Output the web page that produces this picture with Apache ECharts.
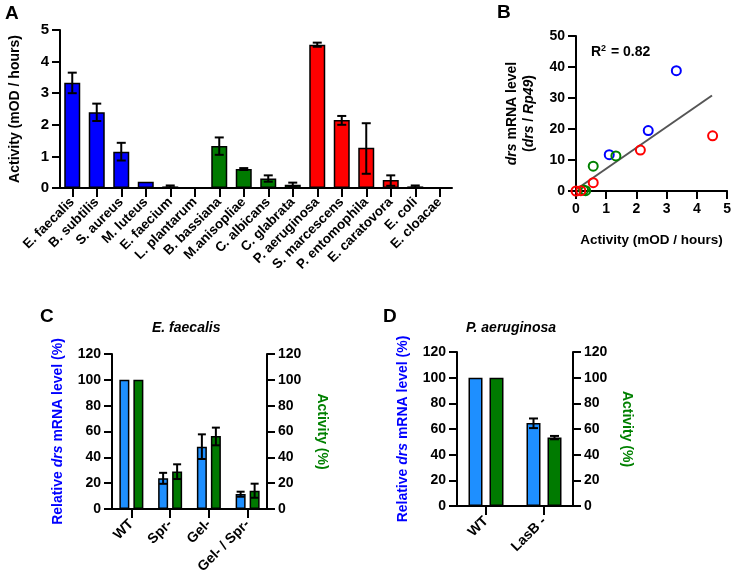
<!DOCTYPE html>
<html>
<head>
<meta charset="utf-8">
<script src="https://cdn.jsdelivr.net/npm/echarts@6/dist/echarts.min.js"></script>
<style>
  html, body { margin: 0; padding: 0; background: #fff; }
  #chart { width: 734px; height: 584px; }
</style>
</head>
<body>
<div id="chart"></div>
<script>
// ---- panel A data ----
const speciesA = ['E. faecalis', 'B. subtilis', 'S. aureus', 'M. luteus', 'E. faecium', 'L. plantarum',
  'B. bassiana', 'M.anisopliae', 'C. albicans', 'C. glabrata',
  'P. aeruginosa', 'S. marcescens', 'P. entomophila', 'E. caratovora', 'E. coli', 'E. cloacae']
const groupA = ['gram+', 'gram+', 'gram+', 'gram+', 'gram+', 'gram+',
  'fungi', 'fungi', 'fungi', 'fungi',
  'gram-', 'gram-', 'gram-', 'gram-', 'gram-', 'gram-']
const activityA = [3.33, 2.4, 1.15, 0.2, 0.05, 0, 1.33, 0.6, 0.3, 0.1, 4.53, 2.15, 1.27, 0.25, 0.05, 0]
const errLowA = [3.0, 2.12, 0.87, 0.2, 0.02, 0, 1.05, 0.57, 0.2, 0.03, 4.47, 2.0, 0.45, 0.07, 0.02, 0]
const errHighA = [3.65, 2.67, 1.43, 0.2, 0.08, 0, 1.6, 0.63, 0.4, 0.17, 4.6, 2.28, 2.05, 0.4, 0.08, 0]

// ---- panel B data: [activity, drs / Rp49] ----
const pointsBlue = [[3.32, 38.8], [2.39, 19.5], [1.1, 11.7]]
const pointsGreen = [[1.32, 11.3], [0.57, 8.0], [0.25, 0.3], [0.32, 0.1]]
const pointsRed = [[4.52, 17.8], [2.13, 13.2], [0.57, 2.7], [0.16, 0.1], [0.0, 0.0]]
const fitLine = [[0.05, 0.8], [4.5, 30.8]]

// ---- panel C data (E. faecalis) ----
const strainsC = ['WT', 'Spr-', 'Gel-', 'Gel- / Spr-']
const mrnaC = [100, 23.8, 48.2, 11.6]
const mrnaErrC = [[100, 100], [19.5, 28], [38.7, 57.8], [9.5, 13.4]]
const actC = [100, 29, 56.5, 14.2]
const actErrC = [[100, 100], [23.2, 34.6], [49.3, 63], [8.7, 19.6]]

// ---- panel D data (P. aeruginosa) ----
const strainsD = ['WT', 'LasB -']
const mrnaD = [100, 64.6]
const mrnaErrD = [[100, 100], [60.7, 68.2]]
const actD = [100, 53.3]
const actErrD = [[100, 100], [52, 54.6]]

const groupColors = { 'gram+': '#0000ff', 'fungi': '#007a00', 'gram-': '#ff0000' }
const barBlue = '#1e8fff'
const barGreen = '#007a00'
const FONT = '"Liberation Sans", Arial, sans-serif'

const chart = echarts.init(document.getElementById('chart'))

const axisLine = { show: true, lineStyle: { color: '#000', width: 2 } }
const axisTick = { show: true, length: 8, lineStyle: { color: '#000', width: 2 } }
const tickLabel = { color: '#000', fontWeight: 'bold', fontSize: 14, fontFamily: FONT }

function errorBars(offset, capHalf) {
  return function (params, api) {
    const lo = api.value(1), hi = api.value(2)
    if (hi - lo <= 0) return
    const a = api.coord([api.value(0), lo])
    const b = api.coord([api.value(0), hi])
    const x = a[0] + offset
    const st = { stroke: '#000', lineWidth: 2 }
    return {
      type: 'group',
      children: [
        { type: 'line', shape: { x1: x, y1: a[1], x2: x, y2: b[1] }, style: st },
        { type: 'line', shape: { x1: x - capHalf, y1: a[1], x2: x + capHalf, y2: a[1] }, style: st },
        { type: 'line', shape: { x1: x - capHalf, y1: b[1], x2: x + capHalf, y2: b[1] }, style: st },
      ],
    }
  }
}

function errData(pairs) {
  return pairs.map((p, i) => [i, p[0], p[1]])
}

function sideAxis(gridIndex, position, name, color, nameGap, rotate) {
  return {
    type: 'value', gridIndex, position, min: 0, max: 120, interval: 20,
    axisLine, axisTick, axisLabel: { ...tickLabel, margin: 11 }, splitLine: { show: false },
    name, nameLocation: 'middle', nameGap, nameRotate: rotate,
    nameTextStyle: {
      color, fontWeight: 'bold', fontSize: 14, fontFamily: FONT,
      rich: { i: { color, fontWeight: 'bold', fontStyle: 'italic', fontSize: 14, fontFamily: FONT } },
    },
  }
}

const option = {
  animation: false,
  textStyle: { fontFamily: FONT },
  grid: [
    { left: 58, top: 30, width: 394, height: 158 },
    { left: 576, top: 36, width: 153, height: 155 },
    { left: 112, top: 354, width: 155, height: 155 },
    { left: 457, top: 352, width: 116, height: 154 },
  ],
  xAxis: [
    {
      type: 'category', gridIndex: 0, data: speciesA,
      axisLine, axisTick: { ...axisTick, length: 9, alignWithLabel: true },
      axisLabel: { ...tickLabel, fontSize: 13.5, rotate: 45, interval: 0, margin: 12 },
    },
    {
      type: 'value', gridIndex: 1, min: 0, max: 5, interval: 1,
      axisLine, axisTick, axisLabel: { ...tickLabel, margin: 11 }, splitLine: { show: false },
      name: 'Activity (mOD / hours)', nameLocation: 'middle', nameGap: 42,
      nameTextStyle: { color: '#000', fontWeight: 'bold', fontSize: 13.5, fontFamily: FONT },
    },
    {
      type: 'category', gridIndex: 2, data: strainsC,
      axisLine, axisTick: { ...axisTick, length: 9, alignWithLabel: true },
      axisLabel: { ...tickLabel, fontSize: 14, rotate: 45, interval: 0, margin: 13 },
    },
    {
      type: 'category', gridIndex: 3, data: strainsD,
      axisLine, axisTick: { ...axisTick, length: 9, alignWithLabel: true },
      axisLabel: { ...tickLabel, fontSize: 14, rotate: 45, interval: 0, margin: 13 },
    },
  ],
  yAxis: [
    {
      type: 'value', gridIndex: 0, min: 0, max: 5, interval: 1,
      axisLine, axisTick, axisLabel: { ...tickLabel, fontSize: 15, margin: 11 }, splitLine: { show: false },
      name: 'Activity (mOD / hours)', nameLocation: 'middle', nameGap: 38, nameRotate: 90,
      nameTextStyle: { color: '#000', fontWeight: 'bold', fontSize: 14, fontFamily: FONT },
    },
    {
      type: 'value', gridIndex: 1, min: 0, max: 50, interval: 10,
      axisLine, axisTick, axisLabel: { ...tickLabel, margin: 11 }, splitLine: { show: false },
      name: '{i|drs} mRNA level\n({i|drs} / {i|Rp49})', nameLocation: 'middle', nameGap: 38, nameRotate: 90,
      nameTextStyle: {
        color: '#000', fontWeight: 'bold', fontSize: 14, fontFamily: FONT, lineHeight: 17,
        rich: { i: { color: '#000', fontWeight: 'bold', fontStyle: 'italic', fontSize: 14, fontFamily: FONT, lineHeight: 17 } },
      },
    },
    sideAxis(2, 'left', 'Relative {i|drs} mRNA level (%)', '#0000ff', 47, 90),
    sideAxis(2, 'right', 'Activity (%)', '#008000', 48, -90),
    sideAxis(3, 'left', 'Relative {i|drs} mRNA level (%)', '#0000ff', 47, 90),
    sideAxis(3, 'right', 'Activity (%)', '#008000', 47, -90),
  ],
  series: [
    // panel A
    {
      type: 'bar', xAxisIndex: 0, yAxisIndex: 0, barWidth: 16,
      data: activityA.map((v, i) => ({ value: v, itemStyle: { color: groupColors[groupA[i]] } })),
      itemStyle: { borderColor: '#000', borderWidth: 1.5 },
    },
    {
      type: 'custom', xAxisIndex: 0, yAxisIndex: 0, z: 5,
      renderItem: errorBars(0, 4.5),
      data: errLowA.map((lo, i) => [i, lo, errHighA[i]]),
    },
    // panel B
    {
      type: 'line', xAxisIndex: 1, yAxisIndex: 1, data: fitLine, symbol: 'none',
      lineStyle: { color: '#555', width: 2 }, z: 1,
    },
    ...[[pointsBlue, '#0000ff'], [pointsGreen, '#008000'], [pointsRed, '#ff0000']].map(([pts, c]) => ({
      type: 'scatter', xAxisIndex: 1, yAxisIndex: 1, data: pts, symbolSize: 9,
      itemStyle: { color: 'rgba(255,255,255,0)', borderColor: c, borderWidth: 2, opacity: 1 },
    })),
    // panel C
    {
      type: 'bar', xAxisIndex: 2, yAxisIndex: 2, data: mrnaC, barWidth: 10, barGap: '40%',
      itemStyle: { color: barBlue, borderColor: '#000', borderWidth: 1.5 },
    },
    {
      type: 'bar', xAxisIndex: 2, yAxisIndex: 3, data: actC, barWidth: 10, barGap: '40%',
      itemStyle: { color: barGreen, borderColor: '#000', borderWidth: 1.5 },
    },
    { type: 'custom', xAxisIndex: 2, yAxisIndex: 2, z: 5, renderItem: errorBars(-7, 4), data: errData(mrnaErrC) },
    { type: 'custom', xAxisIndex: 2, yAxisIndex: 3, z: 5, renderItem: errorBars(7, 4), data: errData(actErrC) },
    // panel D
    {
      type: 'bar', xAxisIndex: 3, yAxisIndex: 4, data: mrnaD, barWidth: 14, barGap: '50%',
      itemStyle: { color: barBlue, borderColor: '#000', borderWidth: 1.5 },
    },
    {
      type: 'bar', xAxisIndex: 3, yAxisIndex: 5, data: actD, barWidth: 14, barGap: '50%',
      itemStyle: { color: barGreen, borderColor: '#000', borderWidth: 1.5 },
    },
    { type: 'custom', xAxisIndex: 3, yAxisIndex: 4, z: 5, renderItem: errorBars(-10.5, 4.5), data: errData(mrnaErrD) },
    { type: 'custom', xAxisIndex: 3, yAxisIndex: 5, z: 5, renderItem: errorBars(10.5, 4.5), data: errData(actErrD) },
  ],
  graphic: [
    { type: 'text', left: 5, top: 4, style: { text: 'A', font: 'bold 19px ' + FONT, fill: '#000' } },
    { type: 'text', left: 497, top: 3, style: { text: 'B', font: 'bold 19px ' + FONT, fill: '#000' } },
    { type: 'text', left: 40, top: 307, style: { text: 'C', font: 'bold 19px ' + FONT, fill: '#000' } },
    { type: 'text', left: 383, top: 307, style: { text: 'D', font: 'bold 19px ' + FONT, fill: '#000' } },
    {
      type: 'text', left: 591, top: 44,
      style: {
        text: '{a|R}{s|2}{a| = 0.82}',
        rich: {
          a: { font: 'bold 14px ' + FONT, fill: '#000' },
          s: { font: 'bold 9px ' + FONT, fill: '#000', padding: [0, 1, 8, 0] },
        },
      },
    },
    {
      type: 'text', left: 152, top: 321,
      style: { text: 'E. faecalis', font: 'italic bold 14px ' + FONT, fill: '#000' },
    },
    {
      type: 'text', left: 466, top: 321,
      style: { text: 'P. aeruginosa', font: 'italic bold 14px ' + FONT, fill: '#000' },
    },
  ],
}

chart.setOption(option)
</script>
</body>
</html>
